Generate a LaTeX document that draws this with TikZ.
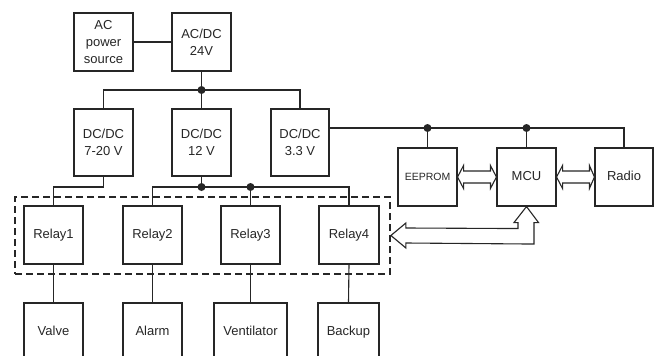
\documentclass[tikz,border=0pt]{standalone}
\usepackage{fontspec}
\setmainfont{Liberation Sans}
\usetikzlibrary{calc}
\definecolor{ink}{HTML}{262626}
\tikzset{
  box/.style={draw=ink, line width=1.1pt, rectangle, inner sep=0pt, align=center, text=ink,
    font=\fontsize{13}{17}\selectfont},
  one/.style={text height=9.4pt, text depth=2.8pt},
  wire/.style={draw=ink, line width=1.1pt},
  dot/.style={fill=ink, circle, inner sep=0pt, minimum size=8pt},
  grpbox/.style={draw=ink, line width=1.8pt, dash pattern=on 7pt off 4pt, inner sep=0pt},
  fat/.style={draw=ink, line width=1.1pt, fill=white, line join=miter}
}
\begin{document}
\begin{tikzpicture}[x=1pt, y=-1pt]
\useasboundingbox (0,0) rectangle (659,356);
\begin{scope}
\clip (0,0) rectangle (659,356);
% top
\node[box, minimum width=59pt, minimum height=58pt] (ac) at (103.5,42) {AC\\power\\source};
\node[box, minimum width=59pt, minimum height=58pt] (acdc) at (201.5,42) {AC/DC\\24V};
% DC/DC
\node[box, minimum width=59pt, minimum height=67pt] (dc1) at (103.5,142.5) {DC/DC\\7-20 V};
\node[box, minimum width=59pt, minimum height=67pt] (dc2) at (201.5,142.5) {DC/DC\\12 V};
\node[box, minimum width=58pt, minimum height=67pt] (dc3) at (300,142.5) {DC/DC\\3.3 V};
% right side
\node[box, one, minimum width=59pt, minimum height=58pt, font=\fontsize{10.5}{12}\selectfont] (eeprom) at (427.5,177) {EEPROM};
\node[box, one, minimum width=59pt, minimum height=58pt] (mcu) at (526.5,177) {MCU};
\node[box, one, minimum width=58pt, minimum height=58pt] (radio) at (624,177) {Radio};
% relays
\node[box, one, minimum width=59pt, minimum height=58pt] (r1) at (53.5,235) {Relay1};
\node[box, one, minimum width=59pt, minimum height=58pt] (r2) at (152.5,235) {Relay2};
\node[box, one, minimum width=59pt, minimum height=58pt] (r3) at (250.5,235) {Relay3};
\node[box, one, minimum width=60pt, minimum height=58pt] (r4) at (349,235) {Relay4};
\node[grpbox, minimum width=375pt, minimum height=77pt] (grp) at (202.5,235.5) {};
% loads
\node[box, one, minimum width=59pt, minimum height=59pt] (valve) at (53.5,332.5) {Valve};
\node[box, one, minimum width=59pt, minimum height=59pt] (alarm) at (152.5,332.5) {Alarm};
\node[box, one, minimum width=73pt, minimum height=59pt] (vent) at (250.5,332.5) {Ventilator};
\node[box, one, minimum width=61pt, minimum height=59pt] (backup) at (348.5,332.5) {Backup};
% coordinates
\coordinate (j1) at (201.5,90);
\coordinate (c1) at (103.5,187);
\coordinate (j2) at (201.5,187);
\coordinate (j3) at (250.5,187);
\coordinate (k1) at (427.5,128);
\coordinate (k2) at (526.5,128);
% wires
\draw[wire] (ac.east) -- (acdc.west);
\draw[wire] (acdc.south) -- (dc2.north);
\draw[wire] (dc1.north) |- (j1) -| (dc3.north);
\draw[wire] (dc1.south) -- (c1) -| (r1.north);
\draw[wire] (dc2.south) -- (j2);
\draw[wire] (r2.north) |- (j2) -| (r4.north);
\draw[wire] (j3) -- (r3.north);
\draw[wire] (dc3.east |- k1) -- (k1) -- (k2) -| (radio.north);
\draw[wire] (k1) -- (eeprom.north);
\draw[wire] (k2) -- (mcu.north);
\draw[wire] (r1.south) -- (valve.north);
\draw[wire] (r2.south) -- (alarm.north);
\draw[wire] (r3.south) -- (vent.north);
\draw[wire] (r4.south) -- (backup.north);
\node[dot] at (j1) {};
\node[dot] at (j2) {};
\node[dot] at (j3) {};
\node[dot] at (k1) {};
\node[dot] at (k2) {};
% fat double arrows
\draw[fat] (eeprom.east) -- ++(6,-11.5) -- ++(0,5.5) -- ($(mcu.west)+(-6,-6)$) -- ++(0,-5.5)
  -- (mcu.west) -- ++(-6,11.5) -- ++(0,-5.5) -- ($(eeprom.east)+(6,6)$) -- ++(0,5.5) -- cycle;
\draw[fat] (mcu.east) -- ++(6,-11.5) -- ++(0,5.5) -- ($(radio.west)+(-5,-6)$) -- ++(0,-5.5)
  -- (radio.west) -- ++(-5,11.5) -- ++(0,-5.5) -- ($(mcu.east)+(6,6)$) -- ++(0,5.5) -- cycle;
% L-shaped arrow group <-> MCU
\draw[fat] (grp.east) -- ++(15,-12.5) -- ++(0,5) -- ($(mcu.south)+(-8.5,22)$) -- ++(0,-6)
  -- ++(-4,0) -- (mcu.south) -- ++(12,16) -- ++(-4.5,0) -- ($(mcu.south)+(7.5,37.5)$)
  -- ($(grp.east)+(15,7.5)$) -- ++(0,5) -- cycle;
\end{scope}
\end{tikzpicture}
\end{document}
